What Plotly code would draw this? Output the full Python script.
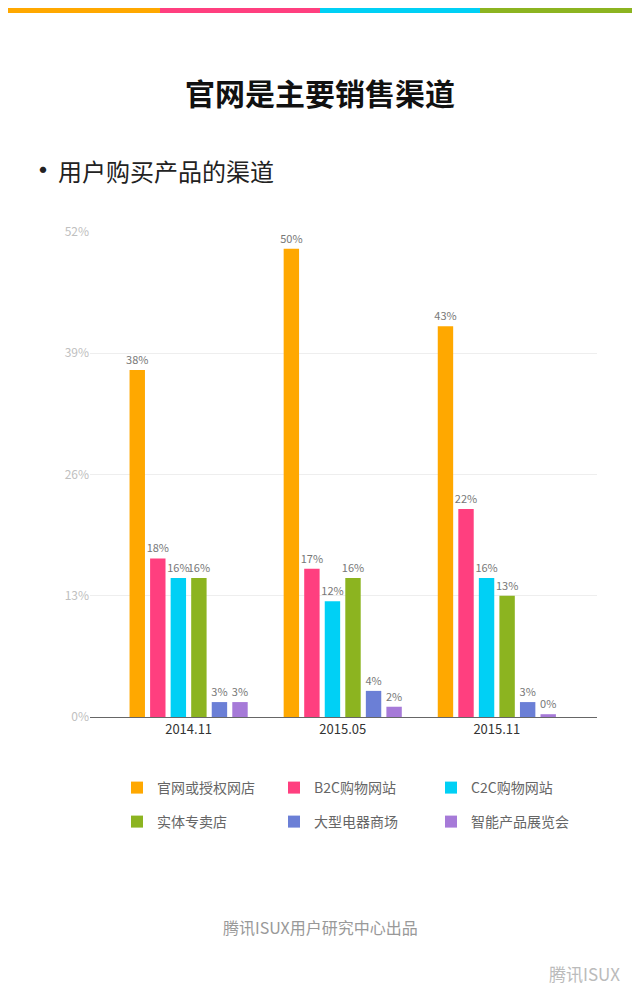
import plotly.graph_objects as go

periods = ['2014.11', '2015.05', '2015.11']
channels = ['官网或授权网店', 'B2C购物网站', 'C2C购物网站', '实体专卖店', '大型电器商场', '智能产品展览会']
colors = ['#FFA800', '#FF3F7F', '#00D0F5', '#8CB420', '#6B7FD6', '#A67AD8']
# bar heights as drawn, and the printed labels
values = [
    [37.2, 50.2, 41.9],
    [17.0, 15.9, 22.3],
    [14.9, 12.4, 14.9],
    [14.9, 14.9, 13.0],
    [1.6, 2.8, 1.6],
    [1.6, 1.1, 0.3],
]
labels = [
    ['38%', '50%', '43%'],
    ['18%', '17%', '22%'],
    ['16%', '12%', '16%'],
    ['16%', '16%', '13%'],
    ['3%', '4%', '3%'],
    ['3%', '2%', '0%'],
]
yticks = [0, 13, 26, 39, 52]

L, R, T, B = 82, 51, 224, 299
PW, PH = 640 - L - R, 1008 - T - B

def px(x):
    return (x - 8 - L) / PW

def py(y):
    return 1 - (y - 8 - T) / PH

fig = go.Figure()
for i, (name, col, v, t) in enumerate(zip(channels, colors, values, labels)):
    fig.add_trace(go.Bar(
        x=periods, y=v, name=name, marker=dict(color=col, line_width=0),
        text=t, textposition='outside', cliponaxis=False, constraintext='none',
        textfont=dict(size=11, color='#777'),
        legend='legend' if i < 3 else 'legend2',
    ))

stripe = ['#FFA800', '#FF3F7F', '#00D0F5', '#8CB420']
shapes = [dict(type='rect', xref='paper', yref='paper', x0=px(i * 160), x1=px((i + 1) * 160),
               y0=py(8), y1=py(13), fillcolor=c, line_width=0) for i, c in enumerate(stripe)]

leg = dict(orientation='h', x=px(117), xanchor='left', yanchor='middle',
           entrywidth=112, entrywidthmode='pixels', traceorder='normal',
           font=dict(size=14, color='#666'), itemwidth=30)

def note(text, x, y, size, color, xanchor='center'):
    return dict(text=text, xref='paper', yref='paper', x=px(x), y=py(y), xanchor=xanchor,
                yanchor='middle', showarrow=False, font=dict(size=size, color=color))

fig.update_layout(
    width=640, height=1008,
    margin=dict(l=L, r=R, t=T, b=B),
    paper_bgcolor='white', plot_bgcolor='white',
    barmode='group', bargap=0.2, bargroupgap=0.25,
    font=dict(family='Noto Sans CJK SC'),
    shapes=shapes,
    xaxis=dict(showline=True, linecolor='#666', linewidth=1, ticks='', range=[-0.64, 2.65],
               tickfont=dict(size=13, color='#333')),
    yaxis=dict(range=[0, 52], tickvals=yticks, ticktext=[f'{v}%' for v in yticks],
               gridcolor='#eeeeee', zeroline=False,
               tickfont=dict(size=12, color='#c0c0c0')),
    legend=dict(leg, y=py(788)),
    legend2=dict(leg, y=py(822)),
    annotations=[
        note('<b>官网是主要销售渠道</b>', 320, 92, 30, '#111'),
        note('<span style="font-size:30px">•</span>用户购买产品的渠道', 26, 168, 24, '#222', 'left'),
        note('腾讯ISUX用户研究中心出品', 320, 927, 16, '#999'),
        note('腾讯ISUX', 622, 973, 17, '#bbb', 'right'),
    ],
)
fig.write_html('out.html')
